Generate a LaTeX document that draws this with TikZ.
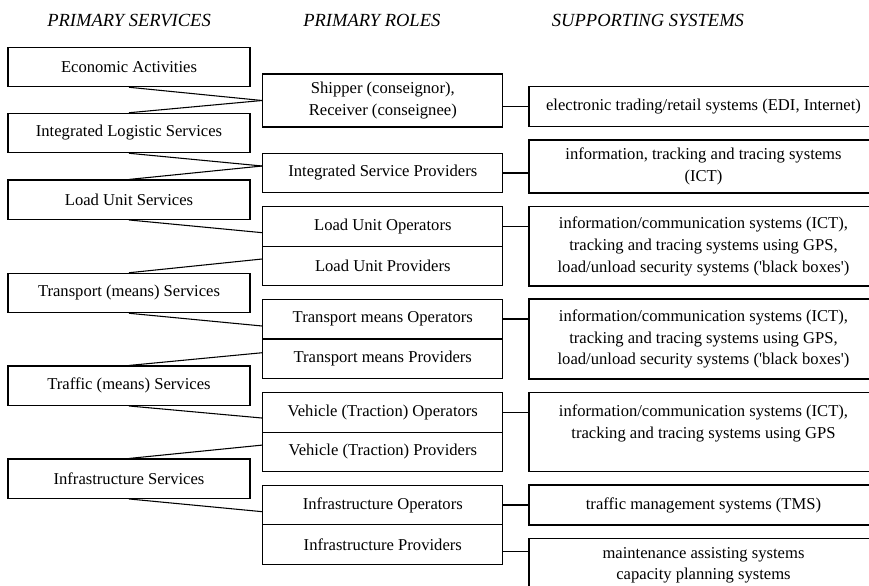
\documentclass[tikz,border=0pt]{standalone}
\usepackage{fontspec}
\setmainfont{Liberation Serif}[Ligatures=TeXOff]
\begin{document}
\begin{tikzpicture}[x=0.75pt,y=-0.75pt,
  box/.style={draw,line width=0.8pt,inner sep=0pt,align=center,
    font=\fontsize{12.45}{16.3}\selectfont},
  svc/.style={box,minimum width=181.5pt,minimum height=29.6pt},
  role/.style={box,minimum width=180.2pt,minimum height=29.7pt},
  sys/.style={box,minimum width=261.75pt},
  head/.style={anchor=base west,inner sep=0pt,font=\fontsize{13.9}{16}\selectfont\itshape},
  link/.style={line width=0.8pt}]
\useasboundingbox (0,0) rectangle (869,586);
\clip (0,0) rectangle (869,586);

% column headings
\node[head] (h1) at (47,26) {PRIMARY SERVICES};
\node[head] (h2) at (303,26) {PRIMARY ROLES};
\node[head] (h3) at (551.7,26) {SUPPORTING SYSTEMS};

% primary services
\node[svc] (L1) at (129,67)    {Economic Activities};
\node[svc] (L2) at (129,133)   {Integrated Logistic Services};
\node[svc] (L3) at (129,199.7) {Load Unit Services};
\node[svc] (L4) at (129,293)   {Transport (means) Services};
\node[svc] (L5) at (129,385.7) {Traffic (means) Services};
\node[svc] (L6) at (129,478.7) {Infrastructure Services};

% primary roles
\node[role,minimum height=39.75pt] (M1) at (382.8,100.5) {Shipper (conseignor),\\Receiver (conseignee)};
\node[role] (M2)  at (382.8,173)   {Integrated Service Providers};
\node[role] (M3a) at (382.8,226.4) {Load Unit Operators};
\node[role] (M3b) at (382.8,266)   {Load Unit Providers};
\node[role] (M4a) at (382.8,319)   {Transport means Operators};
\node[role] (M4b) at (382.8,359)   {Transport means Providers};
\node[role] (M5a) at (382.8,412.3) {Vehicle (Traction) Operators};
\node[role] (M5b) at (382.8,451.9) {Vehicle (Traction) Providers};
\node[role] (M6a) at (382.8,505)   {Infrastructure Operators};
\node[role] (M6b) at (382.8,544.5) {Infrastructure Providers};

% supporting systems
\node[sys,minimum height=30pt] (R1) at (703.5,106.7)
  {electronic trading/retail systems (EDI, Internet)};
\node[sys,minimum height=39.75pt] (R2) at (703.5,166.5)
  {information, tracking and tracing systems\\(ICT)};
\node[sys,minimum height=59.5pt] (R3) at (703.5,246.3)
  {information/communication systems (ICT),\\tracking and tracing systems using GPS,\\load/unload security systems ('black boxes')};
\node[sys,minimum height=60pt] (R4) at (703.5,339)
  {information/communication systems (ICT),\\tracking and tracing systems using GPS,\\load/unload security systems ('black boxes')};
\node[sys,minimum height=59.25pt] (R5) at (703.5,432.2)
  {information/communication systems (ICT),\\tracking and tracing systems using GPS\\\mbox{}};
\node[sys,minimum height=30pt] (R6) at (703.5,505)
  {traffic management systems (TMS)};
\node[sys,minimum height=39.75pt] (R7) at (703.5,565.2)
  {maintenance assisting systems\\capacity planning systems};

% services to roles
\draw[link] (L1.south) -- (M1.west);
\draw[link] (L2.north) -- (M1.west);
\draw[link] (L2.south) -- ([yshift=5.25pt]M2.west);
\draw[link] (L3.north) -- ([yshift=5.25pt]M2.west);
\draw[link] (L3.south) -- ([yshift=-4.7pt]M3a.west);
\draw[link] (L4.north) -- ([yshift=5.25pt]M3b.west);
\draw[link] (L4.south) -- ([yshift=-5.25pt]M4a.west);
\draw[link] (L5.north) -- ([yshift=4.7pt]M4b.west);
\draw[link] (L5.south) -- ([yshift=-4.3pt]M5a.west);
\draw[link] (L6.north) -- ([yshift=5.1pt]M5b.west);
\draw[link] (L6.south) -- ([yshift=-5pt]M6a.west);

% roles to systems
\draw[link] (R1.west -| M1.east) -- (R1.west);
\draw[link] (M2.east) -- (M2.east -| R2.west);
\draw[link] (M3a.east) -- (M3a.east -| R3.west);
\draw[link] (M4a.east) -- (M4a.east -| R4.west);
\draw[link] (M5a.east) -- (M5a.east -| R5.west);
\draw[link] (M6a.east) -- (M6a.east -| R6.west);
\draw[link] ([yshift=-5.4pt]M6b.east) -- ([yshift=-5.4pt]M6b.east -| R7.west);
\end{tikzpicture}
\end{document}
